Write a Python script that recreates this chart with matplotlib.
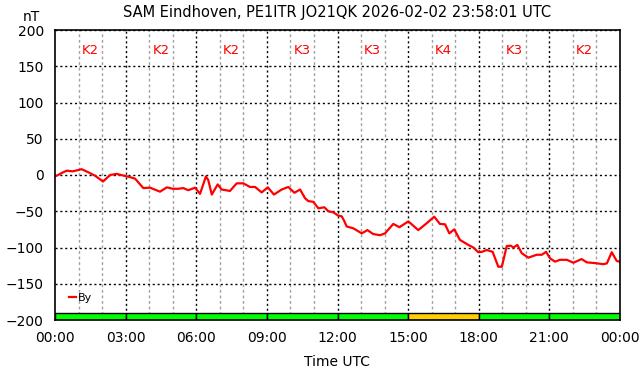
import matplotlib
matplotlib.use("Agg")
import matplotlib.pyplot as plt

# ---- data ----
hours = [0.00, 0.07, 0.30, 0.50, 0.75, 1.13, 1.40, 1.70, 2.04, 2.34, 2.62, 3.19, 3.40, 3.75,
         4.04, 4.46, 4.75, 5.00, 5.24, 5.45, 5.66, 5.95, 6.16, 6.41, 6.51, 6.66, 6.91, 7.08,
         7.43, 7.72, 8.00, 8.28, 8.50, 8.78, 9.04, 9.30, 9.63, 9.91, 10.17, 10.41, 10.62,
         10.76, 10.97, 11.19, 11.44, 11.61, 11.82, 12.03, 12.18, 12.28, 12.39, 12.67, 13.03,
         13.27, 13.52, 13.81, 14.02, 14.37, 14.63, 15.01, 15.43, 15.79, 16.11, 16.35, 16.57,
         16.75, 16.96, 17.20, 17.56, 17.77, 17.98, 18.13, 18.34, 18.59, 18.83, 18.98, 19.19,
         19.36, 19.47, 19.64, 19.83, 20.11, 20.46, 20.68, 20.86, 21.03, 21.24, 21.45, 21.74,
         22.02, 22.37, 22.59, 22.94, 23.29, 23.44, 23.65, 23.86, 23.97]
by_nt = [-1, -1, 3, 6, 5, 8, 4, -1, -9, 0, 1.5, -3, -5, -18,
         -17.5, -23, -17, -19, -19, -18, -21, -17.5, -26, -2, -7, -27, -13, -20,
         -22, -11.5, -11.5, -16.5, -16.5, -24, -17, -27, -20, -16.5, -24.5, -20, -32,
         -36, -37, -46, -44.5, -50, -51.5, -56, -57, -63, -71, -73.5, -80.5,
         -76, -81.5, -83, -80.5, -67.5, -72, -64, -76, -66.5, -57.5, -67.5, -68,
         -80.5, -75, -89.5, -96.5, -100, -106.5, -106, -103.5, -106, -126.5, -126.5, -98,
         -97.5, -100, -96.5, -108, -114, -110, -110, -106, -115, -119.5, -117, -117,
         -121, -116, -120.5, -121.5, -123, -122, -106.5, -118.5, -119.5]
k_start_hours = [0, 3, 6, 9, 12, 15, 18, 21]
k_index = [2, 2, 2, 3, 3, 4, 3, 2]
tick_labels = ["00:00", "03:00", "06:00", "09:00", "12:00", "15:00", "18:00", "21:00", "00:00"]

# ---- figure ----
fig = plt.figure(figsize=(6.42, 3.76), dpi=100)
ax = fig.add_axes([55/642, 1-320/376, 565/642, 290/376])
ax.set_xlim(0, 24)
ax.set_ylim(-200, 200)

# grid
for h in range(1, 24):
    if h % 3 == 0:
        ax.axvline(h, color="black", lw=1, ls=(0, (1.5, 2)), zorder=1)
    else:
        ax.axvline(h, color="#a0a0a0", lw=1, ls=(0, (2, 2)), zorder=1)
for v in range(-200, 201, 50):
    ax.axhline(v, color="black", lw=1, ls=(0, (1.5, 2)), zorder=1)

# K-index bars
bar_h = 10
for s, k in zip(k_start_hours, k_index):
    col = "#ffd000" if k >= 4 else "#00ff00"
    ax.bar(s, bar_h, width=3, bottom=-200, align="edge", color=col,
           edgecolor="black", linewidth=1, zorder=2)
    ax.text(s + 1.5, 172, f"K{k}", color="#ff0000", ha="center", va="center",
            fontsize=9.5, zorder=3)

ax.plot(hours, by_nt, color="#ff0000", lw=1.6, label="By", zorder=4)

ax.legend(loc="lower left", bbox_to_anchor=(0.025, 0.06), frameon=False,
          fontsize=8, handlelength=0.6, handletextpad=0.15, borderpad=0,
          borderaxespad=0)

ax.set_xticks(range(0, 25, 3))
ax.set_xticklabels(tick_labels)
ax.set_yticks(range(-200, 201, 50))
ax.tick_params(axis="both", direction="in", length=0, labelsize=10, pad=8)
for sp in ax.spines.values():
    sp.set_linewidth(1.2)
    sp.set_zorder(5)

fig.text(337/642, 1-12/376, "SAM Eindhoven, PE1ITR JO21QK 2026-02-02 23:58:01 UTC",
         ha="center", va="center", fontsize=10.5)
fig.text(31/642, 1-17/376, "nT", ha="center", va="center", fontsize=10)
fig.text(337/642, 1-362/376, "Time UTC", ha="center", va="center", fontsize=10)

fig.savefig("out.png", dpi=100)
